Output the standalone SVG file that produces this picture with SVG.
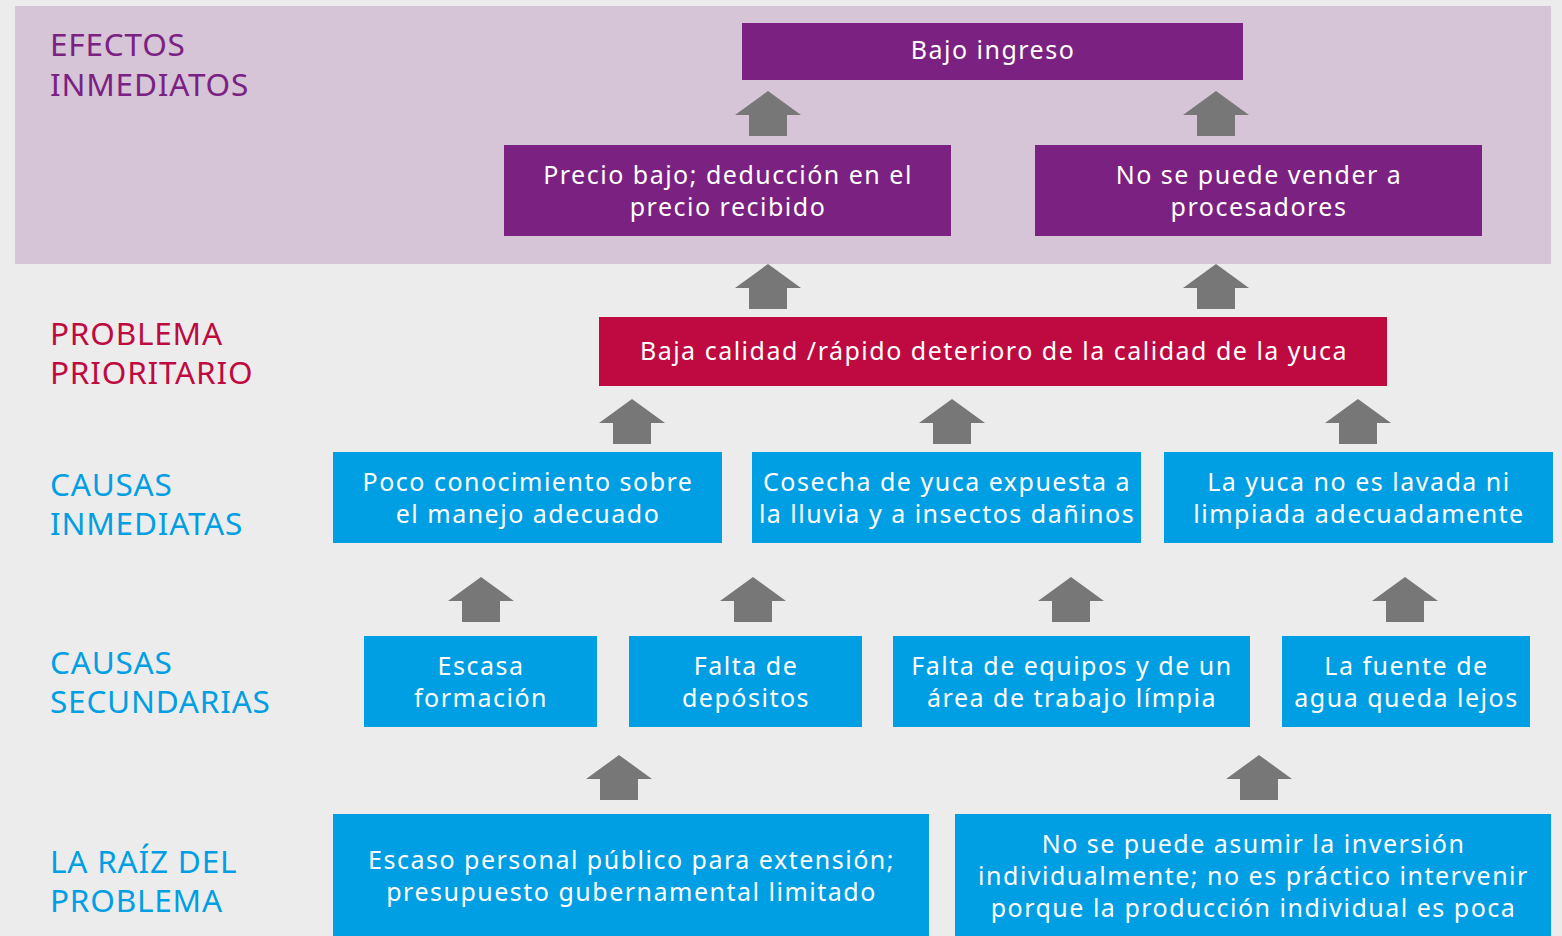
<svg xmlns="http://www.w3.org/2000/svg" width="1562" height="936" viewBox="0 0 1562 936">
<defs>
<style>
.lbl{font-family:"Noto Sans",Lato,sans-serif;font-size:31.5px;letter-spacing:0.8px;}
.t{font-family:"Noto Sans",Lato,sans-serif;font-size:25px;letter-spacing:1.5px;fill:#fff;text-anchor:middle;}
.pu{fill:#7b2182}.rd{fill:#be0a40}.bl{fill:#009ee2}
.ar{fill:#777777}
</style>
<path id="arw" d="M0 0 L33 24 L19 24 L19 45 L-19 45 L-19 24 L-33 24 Z"/>
</defs>
<rect x="0" y="0" width="1562" height="936" fill="#ececec"/>
<rect x="15" y="6" width="1536" height="258" fill="#d6c4d7"/>
<g id="labels">
<text class="lbl" fill="#7b2182" x="50" y="56">EFECTOS</text>
<text class="lbl" fill="#7b2182" x="50" y="95.5">INMEDIATOS</text>
<text class="lbl" fill="#be0a40" x="50" y="345">PROBLEMA</text>
<text class="lbl" fill="#be0a40" x="50" y="384">PRIORITARIO</text>
<text class="lbl" fill="#009ee2" x="50" y="496">CAUSAS</text>
<text class="lbl" fill="#009ee2" x="50" y="535">INMEDIATAS</text>
<text class="lbl" fill="#009ee2" x="50" y="674">CAUSAS</text>
<text class="lbl" fill="#009ee2" x="50" y="713">SECUNDARIAS</text>
<text class="lbl" fill="#009ee2" x="50" y="873">LA RAÍZ DEL</text>
<text class="lbl" fill="#009ee2" x="50" y="912">PROBLEMA</text>
</g>
<g id="connectors" class="ar">
<use href="#arw" x="768" y="91"/>
<use href="#arw" x="1216" y="91"/>
<use href="#arw" x="768" y="264"/>
<use href="#arw" x="1216" y="264"/>
<use href="#arw" x="632" y="399"/>
<use href="#arw" x="952" y="399"/>
<use href="#arw" x="1358" y="399"/>
<use href="#arw" x="481" y="577"/>
<use href="#arw" x="753" y="577"/>
<use href="#arw" x="1071" y="577"/>
<use href="#arw" x="1405" y="577"/>
<use href="#arw" x="619" y="755"/>
<use href="#arw" x="1259" y="755"/>
</g>
<g id="n-bajo-ingreso"><rect class="pu" x="742" y="23" width="501" height="57"/><text class="t" x="993" y="59">Bajo ingreso</text></g>
<g id="n-precio"><rect class="pu" x="504" y="145" width="447" height="91"/><text class="t" x="728" y="184">Precio bajo; deducción en el</text><text class="t" x="728" y="216">precio recibido</text></g>
<g id="n-novender"><rect class="pu" x="1035" y="145" width="447" height="91"/><text class="t" x="1259" y="184">No se puede vender a</text><text class="t" x="1259" y="216">procesadores</text></g>
<g id="n-problema"><rect class="rd" x="599" y="317" width="788" height="69"/><text class="t" x="994" y="360">Baja calidad /rápido deterioro de la calidad de la yuca</text></g>
<g id="n-ci1"><rect class="bl" x="333" y="452" width="389" height="91"/><text class="t" x="528" y="491">Poco conocimiento sobre</text><text class="t" x="528" y="523">el manejo adecuado</text></g>
<g id="n-ci2"><rect class="bl" x="752" y="452" width="389" height="91"/><text class="t" x="947" y="491">Cosecha de yuca expuesta a</text><text class="t" x="947" y="523">la lluvia y a insectos dañinos</text></g>
<g id="n-ci3"><rect class="bl" x="1164" y="452" width="389" height="91"/><text class="t" x="1359" y="491">La yuca no es lavada ni</text><text class="t" x="1359" y="523">limpiada adecuadamente</text></g>
<g id="n-cs1"><rect class="bl" x="364" y="636" width="233" height="91"/><text class="t" x="481" y="675">Escasa</text><text class="t" x="481" y="707">formación</text></g>
<g id="n-cs2"><rect class="bl" x="629" y="636" width="233" height="91"/><text class="t" x="746" y="675">Falta de</text><text class="t" x="746" y="707">depósitos</text></g>
<g id="n-cs3"><rect class="bl" x="893" y="636" width="357" height="91"/><text class="t" x="1072" y="675">Falta de equipos y de un</text><text class="t" x="1072" y="707">área de trabajo límpia</text></g>
<g id="n-cs4"><rect class="bl" x="1282" y="636" width="248" height="91"/><text class="t" x="1406.5" y="675">La fuente de</text><text class="t" x="1406.5" y="707">agua queda lejos</text></g>
<g id="n-r1"><rect class="bl" x="333" y="814" width="596" height="122"/><text class="t" x="631.5" y="869">Escaso personal público para extensión;</text><text class="t" x="631.5" y="901">presupuesto gubernamental limitado</text></g>
<g id="n-r2"><rect class="bl" x="955" y="814" width="596" height="122"/><text class="t" x="1253.5" y="853">No se puede asumir la inversión</text><text class="t" x="1253.5" y="885">individualmente; no es práctico intervenir</text><text class="t" x="1253.5" y="917">porque la producción individual es poca</text></g>
</svg>
